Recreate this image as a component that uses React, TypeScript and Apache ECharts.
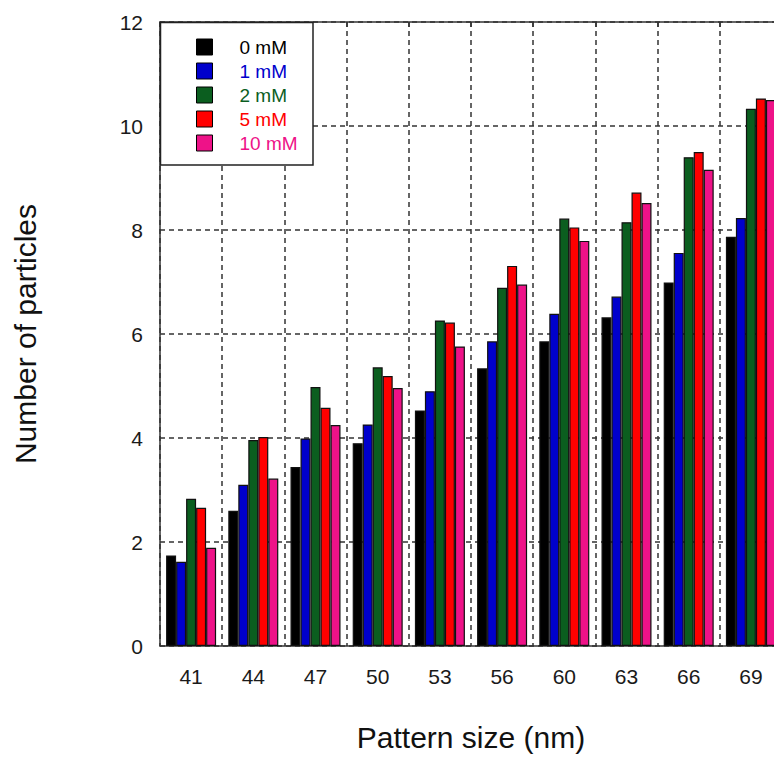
import React, { useEffect, useRef } from "react";
import * as echarts from "echarts";

const categories = ["41", "44", "47", "50", "53", "56", "60", "63", "66", "69"];
const seriesNames = ["0 mM", "1 mM", "2 mM", "5 mM", "10 mM"];
const seriesColors = ["#000000", "#0000cc", "#0b5e1f", "#ff0000", "#ee1288"];
const values0mM = [1.74, 2.6, 3.44, 3.9, 4.53, 5.34, 5.86, 6.32, 6.99, 7.87];
const values1mM = [1.62, 3.1, 3.99, 4.26, 4.9, 5.86, 6.39, 6.72, 7.56, 8.23];
const values2mM = [2.83, 3.96, 4.98, 5.36, 6.26, 6.89, 8.22, 8.15, 9.4, 10.33];
const values5mM = [2.66, 4.02, 4.58, 5.19, 6.22, 7.31, 8.05, 8.72, 9.5, 10.53];
const values10mM = [1.89, 3.22, 4.25, 4.96, 5.76, 6.95, 7.79, 8.52, 9.16, 10.5];
const allValues = [values0mM, values1mM, values2mM, values5mM, values10mM];

const FONT = "'Liberation Sans', Arial, sans-serif";

export default function App() {
  const ref = useRef<HTMLDivElement>(null);
  useEffect(() => {
    if (!ref.current) return;
    const chart = echarts.init(ref.current, undefined, { renderer: "svg" });
    const gridLine = { show: true, lineStyle: { color: "#333", width: 1.5, type: [5, 4] as any } };
    chart.setOption({
      animation: false,
      backgroundColor: "#ffffff",
      textStyle: { fontFamily: FONT },
      grid: { left: 160, top: 22, bottom: 106, right: 8, containLabel: false },
      graphic: [
        {
          type: "rect",
          z: 5,
          shape: { x: 160.5, y: 22.5, width: 152.5, height: 142.5 },
          style: { fill: "#ffffff", stroke: "#222", lineWidth: 1.5 },
        },
      ],
      legend: {
        orient: "vertical",
        left: 196,
        top: 37.5,
        padding: 0,
        itemWidth: 16,
        itemHeight: 16,
        itemGap: 5,
        z: 10,
        icon: "rect",
        textStyle: { fontSize: 19, fontFamily: FONT, padding: [0, 0, 0, 22], lineHeight: 16 },
        data: seriesNames.map((n, i) => ({
          name: n,
          textStyle: { color: seriesColors[i] },
          itemStyle: { color: seriesColors[i], borderColor: "#000", borderWidth: 1 },
        })),
      },
      xAxis: [
        {
          type: "category",
          data: categories,
          position: "bottom",
          axisLine: { show: true, lineStyle: { color: "#333", width: 1.5 } },
          axisTick: { show: false },
          axisLabel: { fontSize: 21, color: "#1a1a1a", margin: 20, fontFamily: FONT, interval: 0 },
          splitLine: { ...gridLine, interval: 0 },
          name: "Pattern size (nm)",
          nameLocation: "middle",
          nameGap: 76,
          nameTextStyle: { fontSize: 30, color: "#111", fontFamily: FONT },
        },
        {
          type: "category",
          data: categories,
          position: "top",
          axisLine: { show: true, lineStyle: { color: "#333", width: 1.5 } },
          axisTick: { show: true, inside: true, length: 5, interval: 0, lineStyle: { color: "#333", width: 1.5 } },
          axisLabel: { show: false },
          splitLine: { show: false },
        },
      ],
      yAxis: {
        type: "value",
        min: 0,
        max: 12,
        interval: 2,
        axisLine: { show: true, lineStyle: { color: "#333", width: 1.5 } },
        axisTick: { show: false },
        axisLabel: { fontSize: 21, color: "#1a1a1a", margin: 17, fontFamily: FONT },
        splitLine: gridLine,
        name: "Number of particles",
        nameLocation: "middle",
        nameGap: 120,
        nameRotate: 90,
        nameTextStyle: { fontSize: 30, color: "#111", fontFamily: FONT },
      },
      series: seriesNames.map((n, i) => ({
        name: n,
        type: "bar",
        xAxisIndex: 0,
        data: allValues[i],
        barGap: "0%",
        barCategoryGap: "19.6%",
        itemStyle: { color: seriesColors[i], borderColor: "#111", borderWidth: 1.2 },
        z: 2,
      })),
    });
    return () => chart.dispose();
  }, []);
  return (
    <div style={{ position: "fixed", left: 0, top: 0, width: 774, height: 757, overflow: "hidden", background: "#fff" }}>
      <div ref={ref} style={{ position: "absolute", left: 0, top: 0, width: 790, height: 757 }} />
    </div>
  );
}
